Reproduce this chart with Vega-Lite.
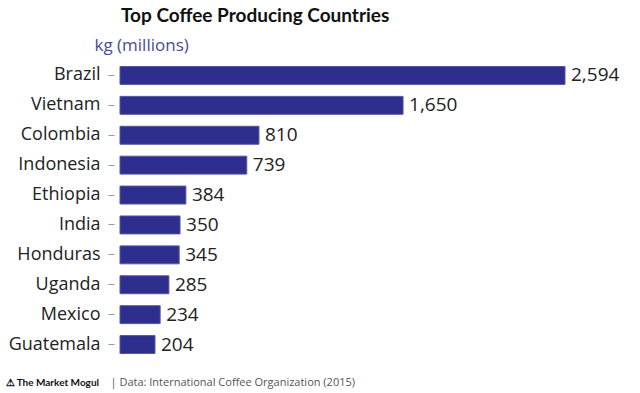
{
  "$schema": "https://vega.github.io/schema/vega-lite/v6.json",
  "autosize": "none",
  "width": 445,
  "height": 302,
  "padding": {"left": 120, "top": 59, "right": 75, "bottom": 32},
  "background": "white",
  "config": {"view": {"stroke": null}, "font": "Open Sans"},
  "title": {
    "text": "Top Coffee Producing Countries",
    "anchor": "start",
    "dx": 116,
    "offset": 10,
    "font": "Lato",
    "fontSize": 19,
    "fontWeight": "bold",
    "color": "#111"
  },
  "data": {
    "values": [
      {"country": "Brazil", "kg": 2594},
      {"country": "Vietnam", "kg": 1650},
      {"country": "Colombia", "kg": 810},
      {"country": "Indonesia", "kg": 739},
      {"country": "Ethiopia", "kg": 384},
      {"country": "India", "kg": 350},
      {"country": "Honduras", "kg": 345},
      {"country": "Uganda", "kg": 285},
      {"country": "Mexico", "kg": 234},
      {"country": "Guatemala", "kg": 204}
    ]
  },
  "encoding": {
    "y": {
      "field": "country",
      "type": "nominal",
      "sort": null,
      "scale": {"paddingInner": 0.4, "paddingOuter": 0.25},
      "axis": {
        "title": "kg (millions)",
        "titleAngle": 0,
        "titleAlign": "left",
        "titleBaseline": "bottom",
        "titleX": -20,
        "titleY": -5,
        "titleFont": "Open Sans",
        "titleFontSize": 17,
        "titleFontWeight": "normal",
        "titleColor": "#4b4b8f",
        "domain": false,
        "offset": 6,
        "tickSize": 6,
        "tickColor": "#999",
        "labelPadding": 8,
        "labelFont": "Open Sans",
        "labelFontSize": 18,
        "labelColor": "#222"
      }
    }
  },
  "layer": [
    {
      "mark": {"type": "bar", "color": "#2e2e8e", "stroke": "#5656a3", "strokeWidth": 1},
      "encoding": {
        "x": {
          "field": "kg",
          "type": "quantitative",
          "scale": {"domain": [0, 2594], "nice": false},
          "axis": {
            "orient": "bottom",
            "title": "⚠ The Market Mogul",
            "labels": false,
            "ticks": false,
            "domain": false,
            "grid": false,
            "titleAnchor": "start",
            "titleAlign": "left",
            "titleBaseline": "middle",
            "titleX": -115,
            "titleY": 21,
            "titleFont": "Lato",
            "titleFontSize": 10,
            "titleFontWeight": "bold",
            "titleColor": "#111"
          }
        }
      }
    },
    {
      "mark": {"type": "text", "align": "left", "baseline": "middle", "dx": 6, "fontSize": 19, "font": "Open Sans", "color": "#222"},
      "encoding": {
        "x": {
          "field": "kg",
          "type": "quantitative",
          "scale": {"domain": [0, 2594], "nice": false},
          "axis": {
            "orient": "bottom",
            "title": "| Data: International Coffee Organization (2015)",
            "labels": false,
            "ticks": false,
            "domain": false,
            "grid": false,
            "titleAnchor": "start",
            "titleAlign": "left",
            "titleBaseline": "middle",
            "titleX": -10,
            "titleY": 21,
            "titleFont": "Open Sans",
            "titleFontSize": 11,
            "titleFontWeight": "normal",
            "titleColor": "#555"
          }
        },
        "text": {"field": "kg", "type": "quantitative", "format": ",d"}
      }
    },
    {
      "mark": {"type": "rule", "color": "#333", "strokeWidth": 1},
      "encoding": {"x": {"datum": 0, "type": "quantitative", "axis": null}}
    }
  ],
  "resolve": {"axis": {"x": "independent"}}
}
